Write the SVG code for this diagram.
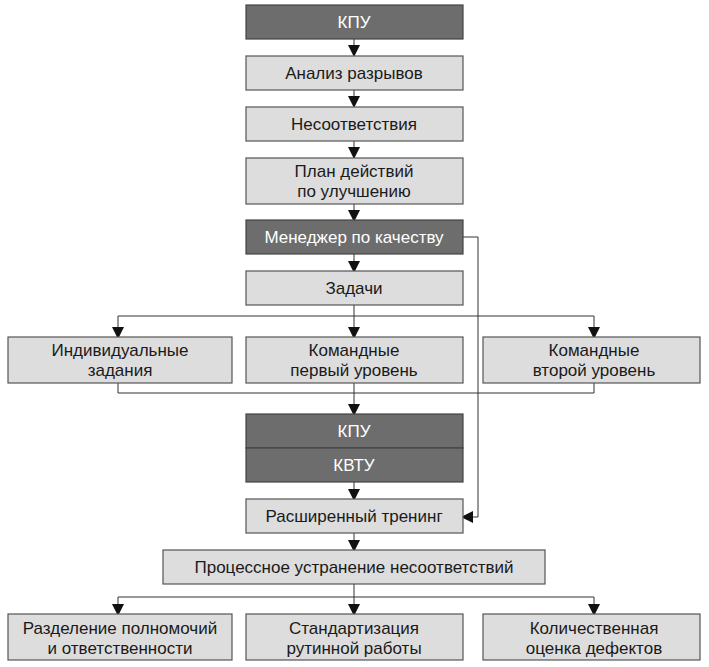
<svg xmlns="http://www.w3.org/2000/svg" width="709" height="667" viewBox="0 0 709 667">
<style>
.lb{fill:#dddddd;stroke:#555;stroke-width:1.2}
.db{fill:#6d6d6d;stroke:#444;stroke-width:1.2}
text{font-family:"Liberation Sans",Arial,sans-serif;font-size:17px;text-anchor:middle}
.t{fill:#1a1a1a}
.w{fill:#fff}
.c{fill:none;stroke:#333;stroke-width:1}
</style>
<defs>
<marker id="a" markerWidth="12" markerHeight="12" refX="10" refY="6" orient="auto" markerUnits="userSpaceOnUse">
<path d="M0,0 L12,6 L0,12 Z" fill="#111"/>
</marker>
</defs>
<rect width="709" height="667" fill="#fff"/>
<g id="connectors">
<line class="c" x1="354" y1="39" x2="354" y2="55" marker-end="url(#a)"/>
<line class="c" x1="354" y1="90" x2="354" y2="106" marker-end="url(#a)"/>
<line class="c" x1="354" y1="141" x2="354" y2="157" marker-end="url(#a)"/>
<line class="c" x1="354" y1="204" x2="354" y2="220" marker-end="url(#a)"/>
<line class="c" x1="354" y1="254" x2="354" y2="271" marker-end="url(#a)"/>
<line class="c" x1="354" y1="305" x2="354" y2="316"/>
<line class="c" x1="118" y1="316" x2="594" y2="316"/>
<line class="c" x1="118" y1="316" x2="118" y2="337" marker-end="url(#a)"/>
<line class="c" x1="354" y1="316" x2="354" y2="337" marker-end="url(#a)"/>
<line class="c" x1="594" y1="316" x2="594" y2="337" marker-end="url(#a)"/>
<polyline class="c" points="118,383 118,393 594,393 594,383"/>
<line class="c" x1="354" y1="383" x2="354" y2="414" marker-end="url(#a)"/>
<line class="c" x1="354" y1="482" x2="354" y2="499" marker-end="url(#a)"/>
<polyline class="c" points="463,237 478,237 478,517 463,517" marker-end="url(#a)"/>
<line class="c" x1="354" y1="533" x2="354" y2="550" marker-end="url(#a)"/>
<line class="c" x1="354" y1="584" x2="354" y2="597"/>
<line class="c" x1="118" y1="597" x2="594" y2="597"/>
<line class="c" x1="118" y1="597" x2="118" y2="614" marker-end="url(#a)"/>
<line class="c" x1="354" y1="597" x2="354" y2="614" marker-end="url(#a)"/>
<line class="c" x1="594" y1="597" x2="594" y2="614" marker-end="url(#a)"/>
</g>
<g id="kpu1"><rect class="db" x="246" y="5" width="217" height="34"/><text class="w" x="354" y="28">КПУ</text></g>
<g id="analiz"><rect class="lb" x="246" y="56" width="217" height="34"/><text class="t" x="354" y="79">Анализ разрывов</text></g>
<g id="nesoot"><rect class="lb" x="246" y="107" width="217" height="34"/><text class="t" x="354" y="130">Несоответствия</text></g>
<g id="plan"><rect class="lb" x="246" y="158" width="217" height="46"/><text class="t" x="354" y="177">План действий</text><text class="t" x="354" y="197">по улучшению</text></g>
<g id="manager"><rect class="db" x="246" y="220" width="217" height="34"/><text class="w" x="354" y="243">Менеджер по качеству</text></g>
<g id="zadachi"><rect class="lb" x="246" y="271" width="217" height="34"/><text class="t" x="354" y="294">Задачи</text></g>
<g id="ind"><rect class="lb" x="8" y="337" width="224" height="46"/><text class="t" x="120" y="356">Индивидуальные</text><text class="t" x="120" y="376">задания</text></g>
<g id="kom1"><rect class="lb" x="246" y="337" width="217" height="46"/><text class="t" x="354" y="356">Командные</text><text class="t" x="354" y="376">первый уровень</text></g>
<g id="kom2"><rect class="lb" x="483" y="337" width="217" height="46"/><text class="t" x="594" y="356">Командные</text><text class="t" x="594" y="376">второй уровень</text></g>
<g id="kpu2"><rect class="db" x="246" y="414" width="217" height="34"/><text class="w" x="354" y="437">КПУ</text></g>
<g id="kvtu"><rect class="db" x="246" y="448" width="217" height="34"/><text class="w" x="354" y="471">КВТУ</text></g>
<g id="trening"><rect class="lb" x="246" y="499" width="217" height="34"/><text class="t" x="354" y="522">Расширенный тренинг</text></g>
<g id="process"><rect class="lb" x="163" y="550" width="382" height="34"/><text class="t" x="354" y="573">Процессное устранение несоответствий</text></g>
<g id="razd"><rect class="lb" x="8" y="614" width="224" height="46"/><text class="t" x="120" y="634">Разделение полномочий</text><text class="t" x="120" y="654">и ответственности</text></g>
<g id="stand"><rect class="lb" x="246" y="614" width="217" height="46"/><text class="t" x="354" y="634">Стандартизация</text><text class="t" x="354" y="654">рутинной работы</text></g>
<g id="kol"><rect class="lb" x="483" y="614" width="217" height="46"/><text class="t" x="594" y="634">Количественная</text><text class="t" x="594" y="654">оценка дефектов</text></g>
</svg>
